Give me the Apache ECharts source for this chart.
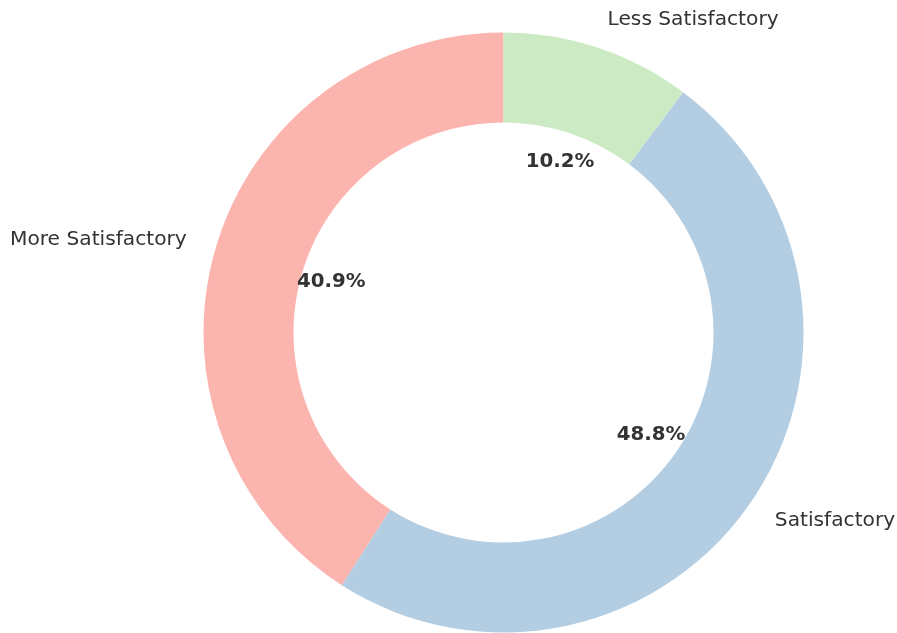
<!DOCTYPE html>
<html><head><meta charset="utf-8">
<script src="https://cdn.jsdelivr.net/npm/echarts@6/dist/echarts.min.js"></script>
<style>html,body{margin:0;padding:0;background:#fff}#c{width:897px;height:633px}</style>
</head><body><div id="c"></div>
<script>
const categories = ['More Satisfactory', 'Satisfactory', 'Less Satisfactory'];
const values = [40.9, 48.8, 10.2];
const colors = ['#fbb4ae', '#b3cde3', '#ccebc5'];

const chart = echarts.init(document.getElementById('c'), null, {renderer: 'canvas'});
const center = [503.5, 332.5];
const data = categories.map((n, i) => ({name: n, value: values[i], itemStyle: {color: colors[i]}}));
chart.setOption({
  animation: false,
  series: [
    {
      type: 'pie', center: center, radius: [210, 300], startAngle: 90, clockwise: false,
      avoidLabelOverlap: false, silent: true,
      label: {show: true, position: 'outside', color: '#333', fontFamily: 'DejaVu Sans', fontSize: 20.2, distanceToLabelLine: 0, padding: [8, 0, 0, 0], formatter: '{b}'},
      labelLine: {show: false, length: 30, length2: 0},
      itemStyle: {borderWidth: 0},
      emphasis: {disabled: true},
      data: data
    },
    {
      type: 'pie', center: center, radius: [0, 353], startAngle: 90, clockwise: false,
      avoidLabelOverlap: false, silent: true, z: 5,
      label: {show: true, position: 'inside', color: '#333', fontFamily: 'DejaVu Sans', fontWeight: 'bold', fontSize: 19.8, padding: [6, 0, 0, 0], formatter: p => p.value.toFixed(1) + '%'},
      labelLine: {show: false},
      itemStyle: {color: 'rgba(0,0,0,0)', borderWidth: 0},
      emphasis: {disabled: true},
      data: categories.map((n, i) => ({name: n, value: values[i]}))
    }
  ]
});
</script></body></html>
